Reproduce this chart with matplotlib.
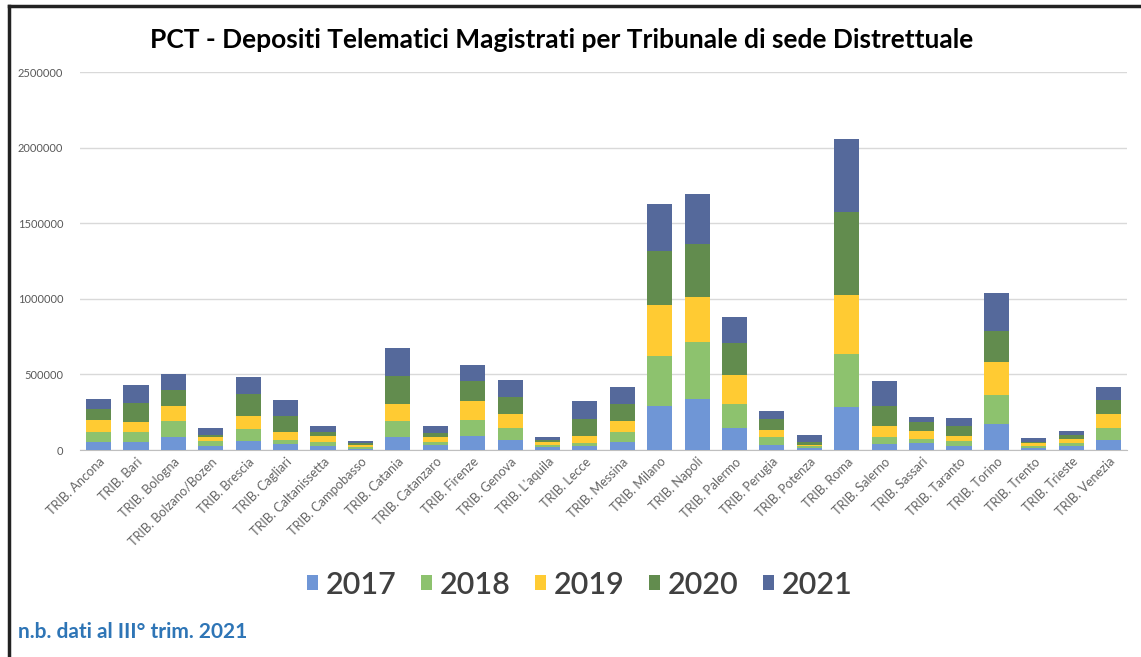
import matplotlib.pyplot as plt
import numpy as np
from matplotlib.lines import Line2D

plt.rcParams['font.family'] = ['Lato', 'DejaVu Sans']

# Tribunali di sede distrettuale
tribunali = ["TRIB. Ancona", "TRIB. Bari", "TRIB. Bologna", "TRIB. Bolzano/Bozen",
             "TRIB. Brescia", "TRIB. Cagliari", "TRIB. Caltanissetta", "TRIB. Campobasso",
             "TRIB. Catania", "TRIB. Catanzaro", "TRIB. Firenze", "TRIB. Genova",
             "TRIB. L'aquila", "TRIB. Lecce", "TRIB. Messina", "TRIB. Milano",
             "TRIB. Napoli", "TRIB. Palermo", "TRIB. Perugia", "TRIB. Potenza",
             "TRIB. Roma", "TRIB. Salerno", "TRIB. Sassari", "TRIB. Taranto",
             "TRIB. Torino", "TRIB. Trento", "TRIB. Trieste", "TRIB. Venezia"]

# depositi per anno (valori stimati dal grafico)
dep_2017 = [56000, 56000, 89000, 27000, 60000, 38000, 29000, 10000, 84000, 33000,
            93000, 67000, 18000, 27000, 56000, 293000, 338000, 144000, 33000, 11000,
            284000, 38000, 44000, 29000, 173000, 11000, 27000, 67000]
dep_2018 = [66000, 66000, 100000, 33000, 78000, 29000, 27000, 10000, 105000, 23000,
            107000, 77000, 15000, 22000, 66000, 329000, 378000, 163000, 51000, 16000,
            349000, 51000, 27000, 31000, 194000, 16000, 22000, 82000]
dep_2019 = [74000, 62000, 100000, 26000, 84000, 55000, 37000, 14000, 118000, 28000,
            122000, 94000, 18000, 44000, 67000, 338000, 295000, 189000, 49000, 6000,
            394000, 67000, 56000, 33000, 215000, 17000, 22000, 89000]
dep_2020 = [77000, 127000, 111000, 14000, 149000, 100000, 29000, 12000, 186000, 32000,
            134000, 113000, 16000, 111000, 118000, 358000, 351000, 211000, 71000, 23000,
            551000, 137000, 57000, 63000, 207000, 12000, 29000, 95000]
dep_2021 = [65000, 122000, 104000, 44000, 111000, 111000, 34000, 16000, 180000, 44000,
            106000, 111000, 17000, 118000, 111000, 311000, 334000, 171000, 52000, 44000,
            482000, 167000, 32000, 55000, 251000, 26000, 27000, 85000]

anni = ["2017", "2018", "2019", "2020", "2021"]
serie = [dep_2017, dep_2018, dep_2019, dep_2020, dep_2021]
colori = ["#6F96D6", "#8DC26E", "#FFCB33", "#628C4E", "#55699B"]

fig = plt.figure(figsize=(11.41, 6.57), dpi=100)
ax = fig.add_axes([0.070, 0.315, 0.918, 0.575])

x = np.arange(len(tribunali))
base = np.zeros(len(tribunali))
for anno, valori, col in zip(anni, serie, colori):
    ax.bar(x, valori, width=0.67, bottom=base, color=col, label=anno, zorder=3)
    base = base + np.array(valori)

ax.set_xlim(-0.5, len(tribunali) - 0.5)
ax.set_ylim(0, 2500000)
ax.set_yticks(np.arange(0, 2500001, 500000))
ax.set_yticklabels([str(v) for v in range(0, 2500001, 500000)], fontsize=8, color="#595959")
ax.yaxis.grid(True, color="#D9D9D9", linewidth=1, zorder=0)
ax.tick_params(axis='y', length=0, pad=12)
ax.tick_params(axis='x', length=0, pad=4)
ax.set_xticks(x)
ax.set_xticklabels(tribunali, rotation=45, ha='right', rotation_mode='anchor',
                   fontsize=9.2, color="#666666")
for s in ['top', 'right', 'left']:
    ax.spines[s].set_visible(False)
ax.spines['bottom'].set_color("#BFBFBF")

fig.text(0.492, 0.939, "PCT - Depositi Telematici Magistrati per Tribunale di sede Distrettuale",
         ha='center', va='center', fontsize=19, fontweight='bold', color="#000000")

leg = fig.legend(loc='center', bbox_to_anchor=(0.508, 0.110), ncol=5, frameon=False,
                 prop={'size': 22, 'weight': 'semibold'},
                 handlelength=0.36, handleheight=0.36, handletextpad=0.25,
                 columnspacing=0.8)
for t in leg.get_texts():
    t.set_color("#404040")

fig.text(0.016, 0.038, "n.b. dati al III° trim. 2021", ha='left', va='center',
         fontsize=15, fontweight='bold', color="#2E75B6")

# cornice nera (bordo sinistro e superiore)
fig.add_artist(Line2D([0.008, 0.008], [0.0, 0.991], color="#222222", linewidth=2.5,
                      transform=fig.transFigure))
fig.add_artist(Line2D([0.008, 1.0], [0.991, 0.991], color="#222222", linewidth=2.5,
                      transform=fig.transFigure))

fig.savefig("out.png", dpi=100)
